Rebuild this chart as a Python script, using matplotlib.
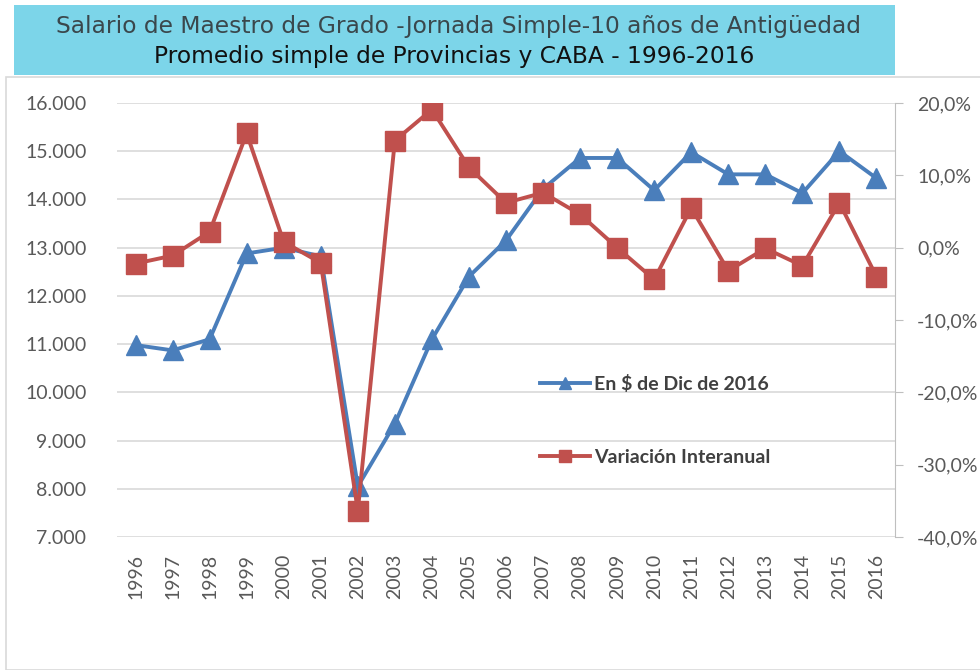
import matplotlib
matplotlib.use("Agg")
import matplotlib.pyplot as plt
import matplotlib.ticker as ticker
from matplotlib.patches import Rectangle

plt.rcParams['font.family'] = ['Lato', 'DejaVu Sans']

years = [str(y) for y in range(1996, 2017)]
salario = [10980, 10870, 11100, 12880, 13000, 12820, 8050, 9350, 11100, 12400,
           13150, 14220, 14860, 14860, 14190, 14980, 14520, 14520, 14130, 15000, 14440]
variacion = [-2.2, -1.1, 2.2, 15.8, 0.8, -2.1, -36.4, 14.8, 19.1, 11.1,
             6.2, 7.6, 4.6, 0.0, -4.4, 5.5, -3.2, -0.1, -2.5, 6.2, -4.0]

titulo1 = 'Salario de Maestro de Grado -Jornada Simple-10 años de Antigüedad'
titulo2 = 'Promedio simple de Provincias y CABA - 1996-2016'
lab_salario = 'En $ de Dic de 2016'
lab_variacion = 'Variación Interanual'

BLUE = '#4a7ebb'
RED = '#c0504d'
TXT = '#595959'

fig = plt.figure(figsize=(9.8, 6.7), dpi=100)
W, H = 980, 670

# chart frame and title box
fig.patches.append(Rectangle((6 / W, 0), 1.0, 1 - 77 / H, transform=fig.transFigure,
                             fill=False, edgecolor='#d9d9d9', linewidth=1.2, zorder=0))
fig.patches.append(Rectangle((14 / W, 1 - 75 / H), (895 - 14) / W, 70 / H,
                             transform=fig.transFigure, facecolor='#7cd5e9',
                             edgecolor='none', zorder=1))
fig.text(458 / W, 1 - 26 / H, titulo1, ha='center', va='center', fontsize=16.8,
         color='#3a474c', family='DejaVu Sans')
fig.text(454 / W, 1 - 56 / H, titulo2, ha='center', va='center', fontsize=16.8,
         color='#111111', family='DejaVu Sans')

ax = fig.add_axes([117 / W, 1 - 537 / H, (895 - 117) / W, (537 - 103) / H])
x = range(len(years))
l1, = ax.plot(x, salario, color=BLUE, lw=2.8, marker='^', markersize=15, label=lab_salario)
ax.set_ylim(7000, 16000)
ax.set_xlim(-0.5, len(years) - 0.5)
ax.yaxis.set_major_locator(ticker.MultipleLocator(1000))
ax.yaxis.set_major_formatter(ticker.FuncFormatter(lambda v, p: f'{int(v):,}'.replace(',', '.')))
ax.set_xticks(list(x))
ax.set_xticklabels(years, rotation=90)
ax.grid(axis='y', color='#d9d9d9', lw=1.2)
ax.set_axisbelow(True)
for s in ax.spines.values():
    s.set_visible(False)
ax.tick_params(axis='y', length=0, pad=22, labelsize=14, labelcolor=TXT)
ax.tick_params(axis='x', length=0, pad=12, labelsize=14, labelcolor=TXT)

ax2 = ax.twinx()
l2, = ax2.plot(x, variacion, color=RED, lw=2.8, marker='s', markersize=15, label=lab_variacion)
ax2.set_ylim(-40, 20)
ax2.yaxis.set_major_locator(ticker.MultipleLocator(10))
ax2.yaxis.set_major_formatter(ticker.FuncFormatter(lambda v, p: f'{v:.1f}%'.replace('.', ',')))
for k, s in ax2.spines.items():
    s.set_visible(k == 'right')
ax2.spines['right'].set_color('#bfbfbf')
ax2.tick_params(axis='y', length=6, color='#bfbfbf', pad=10, labelsize=14, labelcolor=TXT)

leg = fig.legend(handles=[l1, l2], loc='upper left', bbox_to_anchor=(530 / W, 1 - 365 / H),
                 frameon=False, fontsize=14, markerscale=0.6, handlelength=2.6,
                 labelspacing=2.9, handletextpad=0.2, borderpad=0)
for t in leg.get_texts():
    t.set_color('#404040')
    t.set_fontweight('bold')

fig.savefig('out.png', dpi=100)
